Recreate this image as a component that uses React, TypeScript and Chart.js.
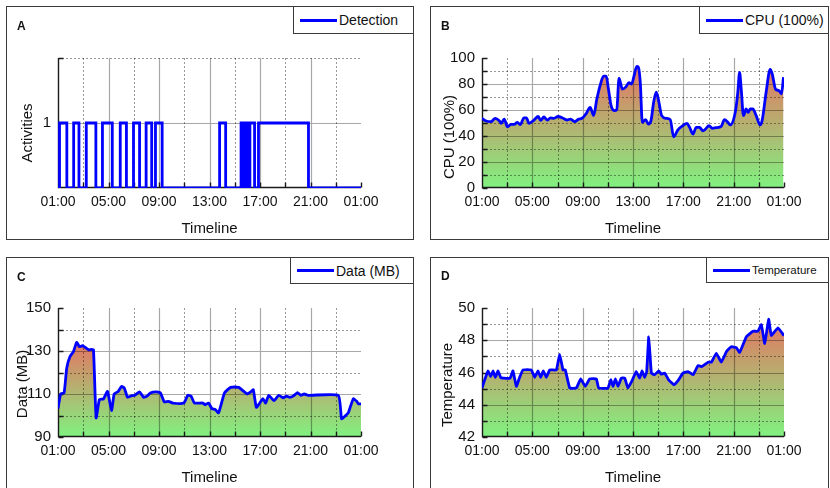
import React, { useEffect, useRef } from 'react';
import { Chart, registerables } from 'chart.js';

Chart.register(...registerables);

const FONT = "'Liberation Sans', Arial, Helvetica, sans-serif";
Chart.defaults.font.family = FONT;
Chart.defaults.color = '#111';

// ---------------- DATA ----------------
const xTickHours = [1, 5, 9, 13, 17, 21, 25];

const detectionTimes = [1, 1.12, 1.7, 2.24, 2.66, 3.24, 4.0, 4.52, 5.3, 5.93, 6.42, 6.98, 7.46, 7.98, 8.42, 8.72, 9.25, 13.8, 14.28, 15.5, 15.72, 15.88, 16.08, 16.2, 16.57, 16.88, 20.84, 25];
const detectionValues = [0, 1, 0, 1, 0, 1, 0, 1, 0, 1, 0, 1, 0, 1, 0, 1, 0, 1, 0, 1, 0, 1, 0, 1, 0, 1, 0, 0];

const cpuTimes = [1.0, 1.32, 1.71, 2.05, 2.37, 2.53, 2.76, 3.03, 3.29, 3.55, 3.82, 4.03, 4.34, 4.53, 4.74, 5.13, 5.47, 5.66, 5.92, 6.18, 6.45, 6.71, 7.05, 7.37, 7.76, 8.03, 8.37, 8.68, 8.95, 9.26, 9.6, 9.87, 10.13, 10.39, 10.66, 10.87, 11.05, 11.26, 11.53, 11.71, 11.89, 12.16, 12.42, 12.68, 12.89, 13.08, 13.3, 13.42, 13.58, 13.74, 14.0, 14.22, 14.43, 14.64, 14.85, 15.06, 15.28, 15.65, 15.96, 16.23, 16.57, 16.97, 17.29, 17.5, 17.76, 18.03, 18.29, 18.56, 18.77, 19.03, 19.3, 19.61, 20.01, 20.27, 20.54, 20.72, 21.15, 21.33, 21.47, 21.6, 21.78, 21.99, 22.15, 22.31, 22.52, 22.79, 23.1, 23.26, 23.58, 23.9, 24.06, 24.33, 24.59, 24.8, 24.96];
const cpuValues = [53.6, 51.5, 51, 53.6, 51.8, 49.7, 53, 47, 49, 49, 50.5, 48.7, 54, 54, 49.7, 52.3, 55, 52, 54.6, 52.3, 54, 53.6, 55, 54, 52.3, 53, 51, 53, 53.6, 57, 62, 55.7, 68.6, 79, 86, 86, 76, 63.4, 59.5, 60.3, 84.5, 76, 77.6, 81, 80, 86, 93.5, 93, 81, 50.5, 52.6, 49.2, 51.8, 66, 73.7, 66, 55.7, 53.6, 52.6, 39.4, 44.8, 48, 49.7, 46.6, 41.5, 46.6, 46.6, 44, 45.4, 48, 45.9, 46.4, 47.4, 52.6, 50.5, 48.5, 59.5, 73.7, 89, 76, 55.7, 60.8, 58.2, 60.8, 60.8, 55.7, 48.5, 51.8, 73.7, 91.2, 87.9, 76, 75, 72.4, 85.3];

const dataTimes = [1.0, 1.21, 1.48, 1.69, 1.95, 2.22, 2.48, 2.7, 2.93, 3.2, 3.46, 3.65, 3.81, 4.02, 4.28, 4.6, 4.92, 5.24, 5.45, 5.77, 6.03, 6.25, 6.51, 6.83, 7.09, 7.46, 7.78, 8.05, 8.31, 8.76, 9.11, 9.42, 9.74, 10.09, 10.96, 11.28, 11.54, 11.81, 12.47, 12.66, 12.92, 13.19, 13.45, 13.72, 14.19, 14.67, 15.3, 15.99, 16.31, 16.47, 16.71, 16.97, 17.23, 17.45, 17.69, 18.11, 18.48, 18.83, 19.09, 19.36, 19.62, 19.97, 20.23, 20.5, 20.81, 23.2, 23.46, 23.73, 23.99, 24.39, 24.66, 24.79, 25.0];
const dataValues = [103.2, 110, 110.5, 122, 127.4, 129.7, 134, 132, 132.5, 131.5, 130.5, 130.8, 130.5, 98.9, 107.4, 107.7, 111.2, 102.3, 110, 111.2, 113.5, 112.8, 108.5, 109.2, 109.4, 111, 108.5, 109, 110.5, 111, 110.5, 106.3, 106.6, 105.8, 105.8, 109.4, 109, 105.8, 105.8, 105, 105.8, 103.2, 102.8, 101.2, 110.5, 113.1, 113.1, 110, 111.2, 112, 103.8, 105.7, 107.8, 105.8, 109.4, 106.9, 109.4, 108.2, 109, 108.5, 109, 110.6, 109.4, 110, 109.4, 109.4, 98.5, 99.7, 101.2, 107.8, 106.6, 105.4, 105.4];

const tempTimes = [1.0, 1.26, 1.48, 1.69, 1.87, 2.06, 2.27, 2.48, 2.7, 3.23, 3.46, 3.73, 3.99, 4.26, 4.92, 5.19, 5.45, 5.66, 5.87, 6.11, 6.38, 6.91, 7.17, 7.44, 7.62, 7.97, 8.5, 8.84, 9.21, 9.56, 10.09, 10.27, 11.01, 11.23, 11.41, 11.6, 11.81, 12.07, 12.34, 12.6, 12.92, 13.26, 13.53, 13.72, 13.93, 14.09, 14.25, 14.46, 14.72, 15.04, 15.25, 15.52, 15.83, 16.26, 16.58, 16.97, 17.37, 17.77, 18.17, 18.48, 18.96, 19.23, 19.62, 20.02, 20.42, 20.81, 21.21, 21.48, 22.01, 22.54, 22.93, 23.2, 23.47, 23.78, 23.99, 24.52, 25.0];
const tempValues = [45.04, 45.65, 46.1, 45.75, 46.1, 45.7, 46.1, 45.7, 45.65, 45.65, 46.1, 45.14, 45.7, 46.16, 46.16, 45.7, 46.1, 45.7, 46.1, 45.7, 46.16, 46.16, 47.13, 46.16, 46.16, 45.04, 45.04, 45.6, 45.14, 45.6, 45.6, 45.04, 45.04, 45.55, 45.14, 45.6, 45.14, 45.65, 45.65, 45.04, 45.49, 46.06, 45.65, 46.1, 45.7, 46.06, 48.2, 45.96, 45.86, 46.1, 45.9, 45.96, 45.55, 45.24, 45.49, 45.96, 46.06, 45.86, 46.43, 46.37, 46.64, 46.64, 47.19, 46.64, 47.29, 47.6, 47.54, 47.25, 48.22, 48.56, 48.56, 48.97, 47.8, 49.3, 48.3, 48.77, 48.28];

// Axis tick values
const xSolidHours = [5, 9, 13, 17, 21];
const xDottedHours = [3, 7, 11, 15, 19, 23];
const xMarkHours = [1, 3, 5, 7, 9, 11, 13, 15, 17, 19, 21, 23, 25];

const detYLabels = [1];
const detYSolid = [1];
const detYDotted = [2];
const detYMarks = [1, 2];

const cpuYSolid = [20, 40, 60, 80];
const cpuYDotted = [10, 30, 50, 70, 90];
const cpuYMarks = [0, 10, 20, 30, 40, 50, 60, 70, 80, 90, 100];

const dataYSolid = [110, 130];
const dataYDotted = [100, 120, 140];
const dataYMarks = [90, 100, 110, 120, 130, 140, 150];

const tempYSolid = [44, 46, 48];
const tempYDotted = [43, 45, 47, 49];
const tempYMarks = [42, 43, 44, 45, 46, 47, 48, 49, 50];

// ---------------- HELPERS ----------------
const fmtHour = (v: number) => {
  const h = ((Math.round(v) % 24) + 24) % 24;
  return `${String(h).padStart(2, '0')}:00`;
};

const GREEN = 'rgb(128,242,128)';
const RED = 'rgb(230,116,98)';

const gridPlugin = {
  id: 'panelGrid',
  beforeDatasetDraw(chart: any, _args: any, opts: any) {
    const { ctx, chartArea: a, scales } = chart;
    const x = scales.x;
    const y = scales.y;
    const px = (v: number) => Math.round(x.getPixelForValue(v)) + 0.5;
    const py = (v: number) => Math.round(y.getPixelForValue(v)) + 0.5;
    ctx.save();
    ctx.lineWidth = 1.2;
    // solid major grid
    ctx.setLineDash([]);
    ctx.strokeStyle = 'rgba(0,0,0,0.34)';
    ctx.beginPath();
    (opts.xSolid || []).forEach((v: number) => { const X = px(v); ctx.moveTo(X, a.top); ctx.lineTo(X, a.bottom); });
    (opts.ySolid || []).forEach((v: number) => { const Y = py(v); ctx.moveTo(a.left, Y); ctx.lineTo(a.right, Y); });
    ctx.stroke();
    // dotted minor grid
    ctx.lineWidth = 1;
    ctx.setLineDash([2, 2]);
    ctx.strokeStyle = 'rgba(0,0,0,0.4)';
    ctx.beginPath();
    (opts.xDotted || []).forEach((v: number) => { const X = px(v); ctx.moveTo(X, a.top); ctx.lineTo(X, a.bottom); });
    (opts.yDotted || []).forEach((v: number) => { const Y = py(v); ctx.moveTo(a.left, Y); ctx.lineTo(a.right, Y); });
    ctx.stroke();
    // axes
    ctx.setLineDash([]);
    ctx.strokeStyle = '#1a1a1a';
    ctx.lineWidth = 1.4;
    const L = Math.round(a.left) + 0.5;
    const B = Math.round(a.bottom) - 0.5;
    ctx.beginPath();
    ctx.moveTo(L, Math.round(a.top));
    ctx.lineTo(L, B);
    ctx.lineTo(Math.round(a.right), B);
    (opts.xMarks || []).forEach((v: number) => { const X = px(v); ctx.moveTo(X, B); ctx.lineTo(X, B - 5); });
    (opts.yMarks || []).forEach((v: number) => { const Y = py(v); ctx.moveTo(L, Y); ctx.lineTo(L + 5, Y); });
    ctx.stroke();
    ctx.restore();
  },
};

type Rect = { l: number; t: number; w: number; h: number };
type PanelDef = {
  letter: string;
  letterPos: [number, number];
  legend: string;
  legendFont: number;
  legendBox: Rect;
  yTitle: string;
  yTitleCenter: [number, number];
  box: Rect;
  plot: { l: number; t: number; r: number; b: number };
  times: number[];
  values: number[];
  yMin: number;
  yMax: number;
  yStep: number;
  yLabels?: number[];
  ySolid: number[];
  yDotted: number[];
  yMarks: number[];
  stepped?: boolean;
  fill: boolean;
  tension: number;
  monotone?: boolean;
};

const Y_AXIS_W = 40;
const X_AXIS_H = 50;

function buildConfig(p: PanelDef): any {
  const pad = {
    left: p.plot.l - p.box.l - Y_AXIS_W,
    top: p.plot.t - p.box.t,
    right: p.box.l + p.box.w - p.plot.r,
    bottom: p.box.t + p.box.h - p.plot.b - X_AXIS_H,
  };
  const points = p.times.map((t, i) => ({ x: t, y: p.values[i] }));
  const maxVal = Math.max(...p.values);
  return {
    type: 'line',
    data: {
      datasets: [
        {
          data: points,
          borderColor: '#0000ff',
          borderWidth: 2.8,
          pointRadius: 0,
          pointHoverRadius: 0,
          tension: p.tension,
          cubicInterpolationMode: p.monotone ? 'monotone' : 'default',
          stepped: p.stepped ? true : false,
          fill: p.fill ? 'start' : false,
          backgroundColor: (c: any) => {
            const chart = c.chart;
            const area = chart.chartArea;
            if (!area) return GREEN;
            const topY = chart.scales.y.getPixelForValue(maxVal);
            const g = chart.ctx.createLinearGradient(0, area.bottom, 0, topY);
            g.addColorStop(0, GREEN);
            g.addColorStop(1, RED);
            return g;
          },
        },
      ],
    },
    options: {
      animation: false,
      responsive: false,
      devicePixelRatio: 1,
      events: [],
      layout: { padding: pad },
      plugins: {
        legend: { display: false },
        tooltip: { enabled: false },
        panelGrid: {
          xSolid: xSolidHours,
          xDotted: xDottedHours,
          xMarks: xMarkHours,
          ySolid: p.ySolid,
          yDotted: p.yDotted,
          yMarks: p.yMarks,
        },
      },
      scales: {
        x: {
          type: 'linear',
          min: xTickHours[0],
          max: xTickHours[xTickHours.length - 1],
          afterFit: (s: any) => { s.height = X_AXIS_H; },
          grid: { display: false, drawTicks: false },
          border: { display: false },
          ticks: {
            stepSize: 4,
            padding: 6,
            autoSkip: false,
            maxRotation: 0,
            font: { size: 14 },
            color: '#111',
            callback: (v: any) => fmtHour(Number(v)),
          },
          title: {
            display: true,
            text: 'Timeline',
            font: { size: 15 },
            color: '#111',
            padding: { top: 0, bottom: 0 },
          },
        },
        y: {
          type: 'linear',
          min: p.yMin,
          max: p.yMax,
          afterFit: (s: any) => { s.width = Y_AXIS_W; },
          grid: { display: false, drawTicks: false },
          border: { display: false },
          ticks: {
            stepSize: p.yStep,
            padding: 7,
            font: { size: 15 },
            color: '#111',
            callback: (v: any) => {
              const n = Number(v);
              if (p.yLabels && !p.yLabels.includes(n)) return '';
              return String(n);
            },
          },
        },
      },
    },
    plugins: [gridPlugin],
  };
}

const panels: PanelDef[] = [
  {
    letter: 'A', letterPos: [17, 20], legend: 'Detection', legendFont: 14,
    legendBox: { l: 293, t: 6, w: 121, h: 28 },
    yTitle: 'Activities', yTitleCenter: [26, 133],
    box: { l: 6, t: 6, w: 408, h: 234 },
    plot: { l: 58, t: 58, r: 361, b: 188 },
    times: detectionTimes, values: detectionValues,
    yMin: 0, yMax: 2, yStep: 1, yLabels: detYLabels,
    ySolid: detYSolid, yDotted: detYDotted, yMarks: detYMarks,
    stepped: true, fill: false, tension: 0,
  },
  {
    letter: 'B', letterPos: [441, 20], legend: 'CPU (100%)', legendFont: 14,
    legendBox: { l: 699, t: 6, w: 130, h: 28 },
    yTitle: 'CPU (100%)', yTitleCenter: [448, 137],
    box: { l: 430, t: 6, w: 399, h: 234 },
    plot: { l: 482, t: 58, r: 784, b: 188 },
    times: cpuTimes, values: cpuValues,
    yMin: 0, yMax: 100, yStep: 20,
    ySolid: cpuYSolid, yDotted: cpuYDotted, yMarks: cpuYMarks,
    fill: true, tension: 0.3, monotone: true,
  },
  {
    letter: 'C', letterPos: [17, 271], legend: 'Data (MB)', legendFont: 14,
    legendBox: { l: 290, t: 257, w: 124, h: 27 },
    yTitle: 'Data (MB)', yTitleCenter: [21, 384],
    box: { l: 6, t: 257, w: 408, h: 240 },
    plot: { l: 58, t: 308, r: 361, b: 437 },
    times: dataTimes, values: dataValues,
    yMin: 90, yMax: 150, yStep: 20,
    ySolid: dataYSolid, yDotted: dataYDotted, yMarks: dataYMarks,
    fill: true, tension: 0.15,
  },
  {
    letter: 'D', letterPos: [441, 270], legend: 'Temperature', legendFont: 11.5,
    legendBox: { l: 706, t: 257, w: 123, h: 26 },
    yTitle: 'Temperature', yTitleCenter: [446, 385],
    box: { l: 430, t: 257, w: 399, h: 240 },
    plot: { l: 482, t: 308, r: 784, b: 437 },
    times: tempTimes, values: tempValues,
    yMin: 42, yMax: 50, yStep: 2,
    ySolid: tempYSolid, yDotted: tempYDotted, yMarks: tempYMarks,
    fill: true, tension: 0.1,
  },
];

function Panel({ p }: { p: PanelDef }) {
  const ref = useRef<HTMLCanvasElement>(null);
  useEffect(() => {
    if (!ref.current) return;
    const chart = new Chart(ref.current, buildConfig(p));
    return () => chart.destroy();
  }, []);
  return (
    <>
      <div
        style={{
          position: 'absolute', left: p.box.l, top: p.box.t, width: p.box.w, height: p.box.h,
          border: '1px solid #3a3a3a', boxSizing: 'border-box',
        }}
      />
      <canvas
        ref={ref}
        width={p.box.w}
        height={p.box.h}
        style={{ position: 'absolute', left: p.box.l, top: p.box.t, width: p.box.w, height: p.box.h }}
      />
      <div
        style={{
          position: 'absolute', left: p.letterPos[0], top: p.letterPos[1],
          fontSize: 12, lineHeight: '12px', fontWeight: 'bold', color: '#111',
        }}
      >
        {p.letter}
      </div>
      <div
        style={{
          position: 'absolute', left: p.yTitleCenter[0], top: p.yTitleCenter[1],
          transform: 'translate(-50%, -50%) rotate(-90deg)', whiteSpace: 'nowrap',
          fontSize: 15, lineHeight: '17px', color: '#111',
        }}
      >
        {p.yTitle}
      </div>
      <div
        style={{
          position: 'absolute', left: p.legendBox.l, top: p.legendBox.t,
          width: p.legendBox.w, height: p.legendBox.h, border: '1px solid #3a3a3a',
          boxSizing: 'border-box', background: '#fff', display: 'flex', alignItems: 'center',
          paddingLeft: 6,
        }}
      >
        <div style={{ width: 37, height: 3, background: '#0000ff', marginRight: 2, flex: 'none' }} />
        <span style={{ fontSize: p.legendFont, color: '#111', whiteSpace: 'nowrap' }}>{p.legend}</span>
      </div>
    </>
  );
}

export default function App() {
  return (
    <div
      style={{
        position: 'absolute', left: 0, top: 0, width: 830, height: 488, overflow: 'hidden',
        background: '#fff', fontFamily: FONT,
      }}
    >
      {panels.map((p) => (
        <Panel key={p.letter} p={p} />
      ))}
    </div>
  );
}
